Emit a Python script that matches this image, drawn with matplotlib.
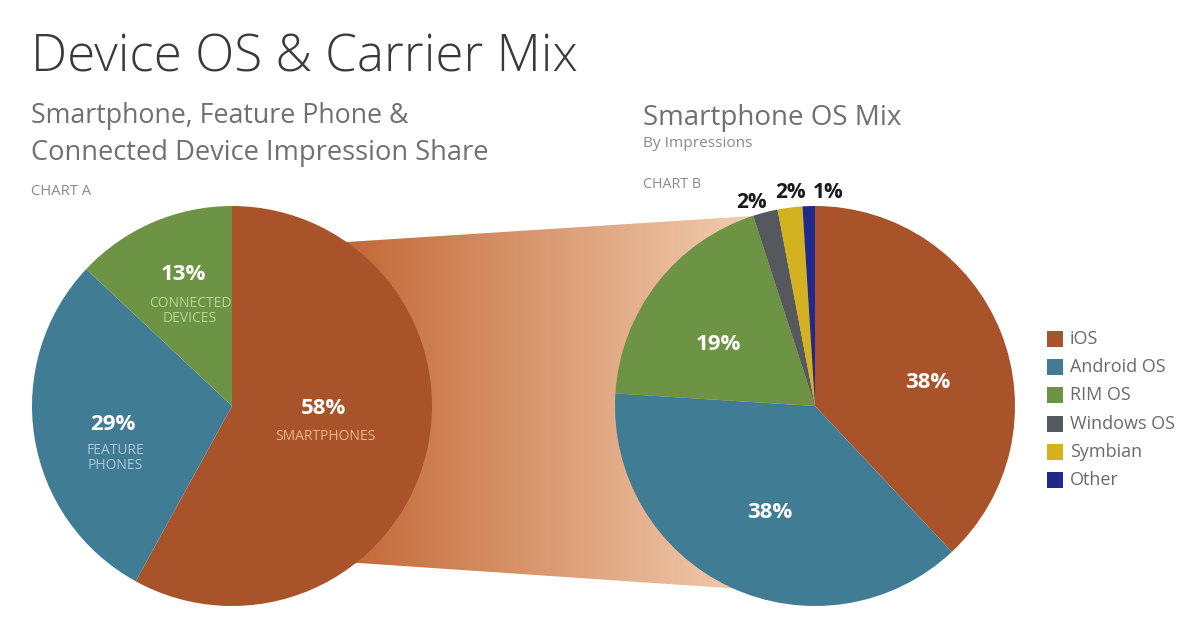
import numpy as np
import matplotlib
matplotlib.use('Agg')
import matplotlib.pyplot as plt
from matplotlib.patches import Polygon, Rectangle

plt.rcParams['font.family'] = ['Open Sans', 'DejaVu Sans']

W, H = 1200, 636

# chart A: device impression share
device_labels = ['SMARTPHONES', 'FEATURE\nPHONES', 'CONNECTED\nDEVICES']
device_share = [58, 29, 13]

# chart B: smartphone OS mix
os_labels = ['iOS', 'Android OS', 'RIM OS', 'Windows OS', 'Symbian', 'Other']
os_share = [38, 38, 19, 2, 2, 1]

device_colors = ['#a8532a', '#417c95', '#6c9444']
device_text_colors = ['#f0b48a', '#a9c9da', '#b9d49a']
os_colors = ['#a8532a', '#417c95', '#6c9444', '#55585d', '#d4b21f', '#1f2a8a']

fig = plt.figure(figsize=(12, 6.36), dpi=100)
ax = fig.add_axes([0, 0, 1, 1])
renderer = fig.canvas.get_renderer()


def py(y):
    # pixel row (from top) -> data y
    return H - y


def fit_text(x, y, s, width, size, **kw):
    # place text, then scale its size so it spans the given pixel width
    t = ax.text(x, py(y), s, fontsize=size, **kw)
    w = t.get_window_extent(renderer).width
    t.set_fontsize(size * width / w)
    return t


# gradient band connecting the two pies
band = Polygon([(300, py(245)), (815, py(212)), (815, py(594)), (300, py(559))],
               closed=True, facecolor='none', edgecolor='none')
ax.add_patch(band)
xs = np.linspace(300, 815, 600)
f = np.clip((xs - 345) / (730 - 345), 0, 1)
c0 = np.array([194, 104, 54]) / 255
c1 = np.array([240, 200, 170]) / 255
grad = (c0[None, :] * (1 - f[:, None]) + c1[None, :] * f[:, None])[None, :, :]
img = ax.imshow(grad, extent=(300, 815, 0, H), aspect='auto', zorder=1)
img.set_clip_path(band)

wp = dict(linewidth=0, zorder=2)
wedges_a, _ = ax.pie(device_share, colors=device_colors, startangle=90, counterclock=False,
                     center=(232, py(406)), radius=200, wedgeprops=wp)
wedges_b, _ = ax.pie(os_share, colors=os_colors, startangle=90, counterclock=False,
                     center=(815, py(406)), radius=200, wedgeprops=wp)

ax.set_xlim(0, W)
ax.set_ylim(0, H)
ax.set_aspect('auto')
ax.axis('off')

# titles
fit_text(31, 72, 'Device OS & Carrier Mix', 546, 40, color='#3a3a3a', fontweight='light')
fit_text(31, 123, 'Smartphone, Feature Phone &', 378, 18, color='#707070')
fit_text(31, 160, 'Connected Device Impression Share', 458, 18, color='#707070')
fit_text(31, 195, 'CHART A', 60, 8, color='#8a8a8a')
fit_text(643, 125, 'Smartphone OS Mix', 258, 18, color='#707070')
fit_text(643, 147, 'By Impressions', 110, 7, color='#8a8a8a')
fit_text(643, 188, 'CHART B', 58, 8, color='#8a8a8a')

# chart A labels
pct_kw = dict(color='white', fontweight='bold', ha='center', va='center', zorder=5)
a_pct_pos = [(323, 408), (113, 424), (183, 275)]
a_lab_pos = [(325, 437), (115, 458), (190, 311)]
for v, lab, tc, (x, y), (lx, ly) in zip(device_share, device_labels, device_text_colors,
                                        a_pct_pos, a_lab_pos):
    ax.text(x, py(y), f'{v}%', fontsize=16, **pct_kw)
    ax.text(lx, py(ly), lab, fontsize=10, color=tc, ha='center', va='center',
            linespacing=1.0, zorder=5)

# chart B labels
b_pos = [(928, 382), (770, 512), (718, 345), (751, 202), (790, 192), (828, 192)]
for i, (v, (x, y)) in enumerate(zip(os_share, b_pos)):
    if i < 3:
        ax.text(x, py(y), f'{v}%', fontsize=16, **pct_kw)
    else:
        ax.text(x, py(y), f'{v}%', fontsize=15, color='#1a1a1a', fontweight='bold',
                ha='center', va='center', zorder=5)

# legend
for i, (lab, c) in enumerate(zip(os_labels, os_colors)):
    yc = 339 + i * 28.2
    ax.add_patch(Rectangle((1047, py(yc) - 8), 16, 16, facecolor=c, edgecolor='none'))
    ax.text(1070, py(yc), lab, fontsize=13, color='#6a6a6a', va='center', ha='left')

fig.savefig('out.png', dpi=100)
